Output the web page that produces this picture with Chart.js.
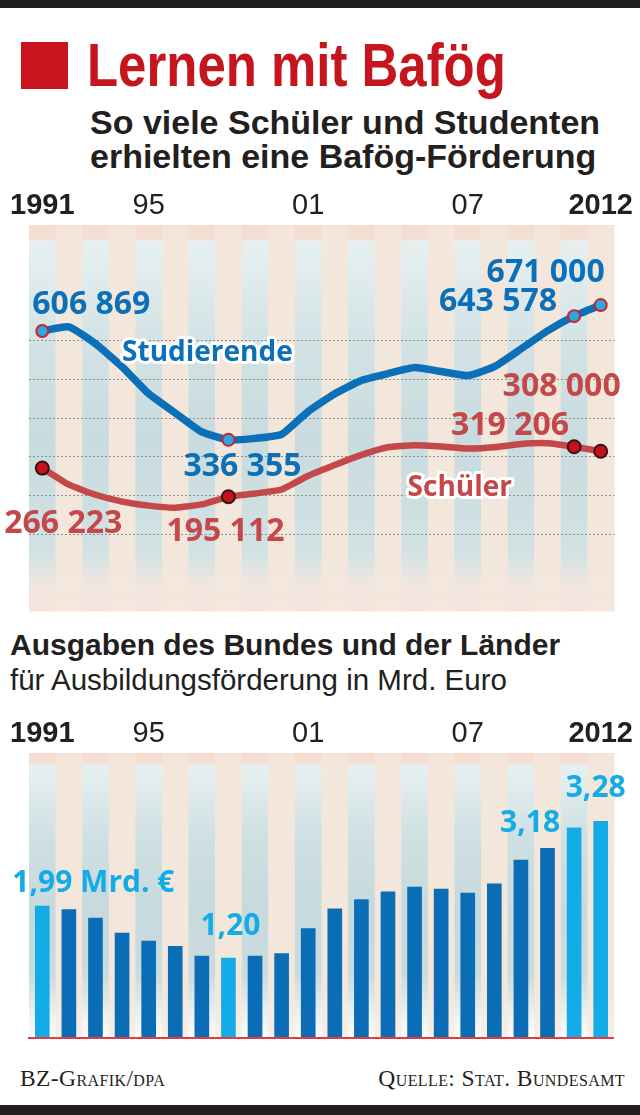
<!DOCTYPE html>
<html>
<head>
<meta charset="utf-8">
<script src="https://cdn.jsdelivr.net/npm/chart.js@4.4.1/dist/chart.umd.min.js"></script>
<style>
  body{margin:0;background:#fff;width:640px;height:1115px;position:relative;overflow:hidden;font-family:'Liberation Sans',Arial,sans-serif;color:#231f20}
  .blk{position:absolute;left:0;width:640px;background:#231f20}
  .sq{position:absolute;left:21px;top:42px;width:47px;height:47px;background:#c9141f}
  .t{position:absolute;white-space:nowrap;line-height:1}
  .h1{left:87px;top:35px;font-weight:bold;font-size:61px;color:#c4161c;transform:scaleX(0.835);transform-origin:0 0}
  .sub{left:90px;font-weight:bold;font-size:34px}
  .h2{left:10px;top:630px;font-weight:bold;font-size:30px}
  .h3{left:10px;top:665px;font-size:29.5px}
  .src{top:1067px;font-family:'Liberation Serif',serif;font-variant:small-caps;font-size:23.5px;letter-spacing:0.4px}
  canvas{position:absolute;left:0}
</style>
</head>
<body>
<div class="blk" style="top:0;height:8px"></div>
<div class="sq"></div>
<div class="t h1">Lernen mit Bafög</div>
<div class="t sub" style="top:105px">So viele Schüler und Studenten</div>
<div class="t sub" style="top:139px">erhielten eine Bafög-Förderung</div>
<canvas id="lines" width="640" height="435" style="top:185px"></canvas>
<div class="t h2">Ausgaben des Bundes und der Länder</div>
<div class="t h3">für Ausbildungsförderung in Mrd. Euro</div>
<canvas id="bars" width="640" height="330" style="top:713px"></canvas>
<div class="t src" style="left:20px">BZ-Grafik/dpa</div>
<div class="t src" style="right:15px">Quelle: Stat. Bundesamt</div>
<div class="blk" style="top:1105px;height:10px"></div>

<script>
const YEARS = ['1991','1992','1993','1994','1995','1996','1997','1998','1999','2000','2001',
  '2002','2003','2004','2005','2006','2007','2008','2009','2010','2011','2012']
const TICK_AT   = ['1991','1995','2001','2007','2012']
const TICK_TEXT = ['1991','95','01','07','2012']
const STUDIERENDE = [606869,617000,575000,518000,451000,403000,356000,336355,340000,350000,407000,
  451000,484000,501000,516000,506000,496000,518000,562000,607000,643578,671000]
const SCHUELER = [266223,225000,200000,183000,173000,168000,176000,195112,203000,213000,247000,
  274000,299000,318000,323000,320000,315000,318000,326000,328000,319206,308000]
const AUSGABEN = [1.99,1.94,1.81,1.58,1.46,1.38,1.23,1.20,1.23,1.27,1.65,
  1.95,2.09,2.21,2.28,2.25,2.19,2.33,2.69,2.87,3.18,3.28]
const MARKED = ['1991','1998','2011','2012']
const LBL_ST  = ['606 869','336 355','643 578','671 000']
const LBL_SCH = ['266 223','195 112','319 206','308 000']
const LBL_BAR = ['1,99 Mrd. €','1,20','3,18','3,28']

const isMarked = i => MARKED.includes(YEARS[i])
const BLUE='#0b70b8', RED='#c4474a', LIGHT='#14ace6'
const numFont = 'bold 32px "Open Sans", sans-serif'

// striped background, one column per year
const stripes = {
  id:'stripes',
  beforeDraw(chart, args, o){
    const {ctx, chartArea:a, scales:{x}} = chart
    const w = (a.right-a.left)/YEARS.length
    const h = a.bottom-a.top
    ctx.save()
    YEARS.forEach((yr,i)=>{
      const cx = x.getPixelForValue(i)
      const g = ctx.createLinearGradient(0,a.top,0,a.bottom)
      const stops = i%2===0 ? o.blue : o.beige
      stops.forEach(s=>g.addColorStop(s[0],s[1]))
      ctx.fillStyle = g
      ctx.fillRect(cx-w/2, a.top, w+0.5, h)
    })
    ctx.restore()
  }
}

// text notes pinned to data points
const notes = {
  id:'notes',
  afterDatasetsDraw(chart, args, o){
    const ctx = chart.ctx
    ctx.save()
    o.items.forEach(n=>{
      const el = chart.getDatasetMeta(n.ds).data[n.i]
      const pos = el.getProps(['x','y'],true)
      ctx.font = n.font
      ctx.textAlign = n.align
      ctx.textBaseline = 'alphabetic'
      const x = pos.x+n.dx, y = pos.y+n.dy
      if(n.halo){
        ctx.lineJoin='round'; ctx.lineWidth=6; ctx.strokeStyle='#fff'
        ctx.strokeText(n.text,x,y)
      }
      ctx.fillStyle = n.color
      ctx.fillText(n.text,x,y)
    })
    if(o.baseline){
      const a = chart.chartArea, y0 = chart.scales.y.getPixelForValue(0)
      ctx.fillStyle = '#e53a3f'
      ctx.fillRect(a.left-1, y0, a.right-a.left+1, 2)
    }
    ctx.restore()
  }
}

const xAxis = {
  position:'top', offset:true,
  grid:{display:false, drawTicks:false}, border:{display:false},
  ticks:{
    autoSkip:false, maxRotation:0, padding:2, color:'#231f20',
    callback:(v,i)=>{ const k = TICK_AT.indexOf(YEARS[i]); return k<0 ? '' : TICK_TEXT[k] },
    font:c=>({family:'"Liberation Sans", sans-serif', size:29,
      weight:(c.index===0||c.index===YEARS.length-1)?'bold':'normal'})
  },
  afterFit(s){ s.height = 40 }
}

const idx = y => YEARS.indexOf(y)

new Chart(document.getElementById('lines'),{
  type:'line',
  data:{labels:YEARS, datasets:[
    {data:STUDIERENDE, borderColor:BLUE, borderWidth:7.5, tension:0.15, borderCapStyle:'round', borderJoinStyle:'round',
     pointRadius:STUDIERENDE.map((v,i)=>isMarked(i)?6:0), pointBackgroundColor:'#2aa9e1',
     pointBorderColor:'#d21f2b', pointBorderWidth:2},
    {data:SCHUELER, borderColor:RED, borderWidth:6.5, tension:0.15, borderCapStyle:'round', borderJoinStyle:'round',
     pointRadius:SCHUELER.map((v,i)=>isMarked(i)?6.5:0), pointBackgroundColor:'#c3121d',
     pointBorderColor:'#3b1214', pointBorderWidth:2}
  ]},
  options:{
    responsive:false, animation:false, devicePixelRatio:1,
    layout:{padding:{left:29,right:26,top:0,bottom:5}},
    plugins:{legend:{display:false}, tooltip:{enabled:false},
      stripes:{
        blue:[[0,'#f4dccf'],[0.035,'#f4dfd3'],[0.045,'#e6f0f1'],[0.3,'#d3e3e5'],[0.55,'#c8dbde'],[0.85,'#d2e2e4'],[0.93,'#f0e6e0'],[1,'#f6e4dc']],
        beige:[[0,'#f5e3d8'],[0.04,'#f3e6da'],[0.9,'#f3e7dc'],[1,'#f6e6de']]
      },
      notes:{items:[
        {ds:0,i:idx('1991'),text:LBL_ST[0],dx:-10,dy:-17,align:'left',font:numFont,color:BLUE},
        {ds:0,i:idx('1998'),text:LBL_ST[1],dx:14,dy:36,align:'center',font:numFont,color:BLUE},
        {ds:0,i:idx('2011'),text:LBL_ST[2],dx:-17,dy:-5,align:'right',font:numFont,color:BLUE},
        {ds:0,i:idx('2012'),text:LBL_ST[3],dx:4,dy:-23,align:'right',font:numFont,color:BLUE},
        {ds:0,i:idx('1994'),text:'Studierende',dx:0,dy:-6,align:'left',font:'bold 28px "Open Sans", sans-serif',color:BLUE,halo:true},
        {ds:1,i:idx('1991'),text:LBL_SCH[0],dx:21,dy:65,align:'center',font:numFont,color:RED},
        {ds:1,i:idx('1998'),text:LBL_SCH[1],dx:-3,dy:44,align:'center',font:numFont,color:RED},
        {ds:1,i:idx('2011'),text:LBL_SCH[2],dx:-5,dy:-12,align:'right',font:numFont,color:RED},
        {ds:1,i:idx('2012'),text:LBL_SCH[3],dx:20,dy:-55,align:'right',font:numFont,color:RED},
        {ds:1,i:idx('2005'),text:'Schüler',dx:-7,dy:51,align:'left',font:'bold 28px "Open Sans", sans-serif',color:RED,halo:true}
      ]}
    },
    scales:{
      x:xAxis,
      y:{min:-90000, max:870000,
        ticks:{display:false, stepSize:100000},
        grid:{drawTicks:false, lineWidth:1,
          color:c=>(c.tick.value>=100000 && c.tick.value<=600000)?'#8f8f8f':'rgba(0,0,0,0)'},
        border:{display:false, dash:[2,2]},
        afterFit(s){ s.width = 0 }}
    }
  },
  plugins:[stripes, notes]
})

const barFont = 'bold 30px "Open Sans", sans-serif'
new Chart(document.getElementById('bars'),{
  type:'bar',
  data:{labels:YEARS, datasets:[
    {data:AUSGABEN, backgroundColor:AUSGABEN.map((v,i)=>isMarked(i)?LIGHT:'#0a6db5'),
     barThickness:14, borderWidth:0}
  ]},
  options:{
    responsive:false, animation:false, devicePixelRatio:1,
    layout:{padding:{left:29,right:26,top:0,bottom:6}},
    plugins:{legend:{display:false}, tooltip:{enabled:false},
      stripes:{
        blue:[[0,'#f4dccf'],[0.03,'#f4dfd3'],[0.045,'#e6f0f1'],[0.3,'#cfe0e2'],[0.55,'#c6d9dc'],[0.78,'#cadbdd'],[0.92,'#eaf1f1'],[1,'#fbfbfa']],
        beige:[[0,'#f5e3d8'],[0.04,'#f3e6da'],[0.85,'#f3e7dc'],[1,'#f8efe9']]
      },
      notes:{baseline:true, items:[
        {ds:0,i:idx('1991'),text:LBL_BAR[0],dx:-30,dy:-14,align:'left',font:barFont,color:LIGHT},
        {ds:0,i:idx('1998'),text:LBL_BAR[1],dx:2,dy:-23,align:'center',font:barFont,color:LIGHT},
        {ds:0,i:idx('2011'),text:LBL_BAR[2],dx:-44,dy:4,align:'center',font:barFont,color:LIGHT},
        {ds:0,i:idx('2012'),text:LBL_BAR[3],dx:-5,dy:-24,align:'center',font:barFont,color:LIGHT}
      ]}
    },
    scales:{
      x:xAxis,
      y:{min:0, max:4.32, display:false}
    }
  },
  plugins:[stripes, notes]
})
</script>
</body>
</html>
